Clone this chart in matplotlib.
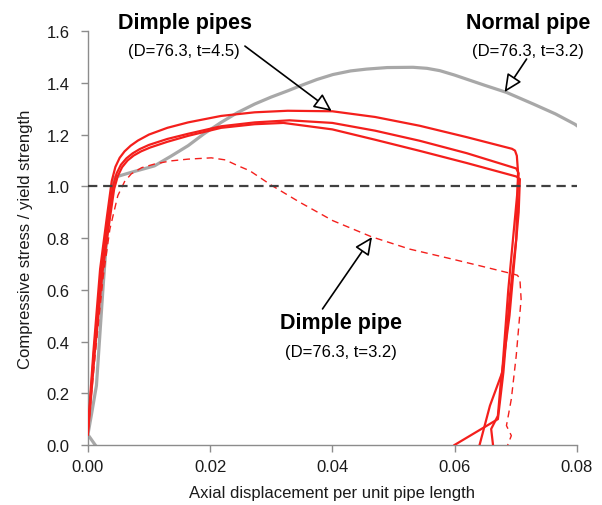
import matplotlib
matplotlib.use("Agg")
import matplotlib.pyplot as plt

plt.rcParams['font.family'] = ['Liberation Sans', 'DejaVu Sans']

# ---- data ----
# Dimple pipes (D=76.3, t=4.5) - three specimens
x_dimple_a = [0.0, 0.0009, 0.002, 0.0031, 0.0039, 0.0045, 0.0052, 0.0060, 0.0070, 0.0082, 0.0100,
              0.0130, 0.0164, 0.0218, 0.0273, 0.0327, 0.040, 0.047, 0.0543, 0.062, 0.0694, 0.0699,
              0.0702, 0.0704, 0.0701, 0.069, 0.0680, 0.0671, 0.0600]
y_dimple_a = [0.06, 0.36, 0.68, 0.88, 1.02, 1.075, 1.11, 1.135, 1.157, 1.177, 1.200,
              1.226, 1.247, 1.272, 1.286, 1.292, 1.29, 1.268, 1.234, 1.19, 1.145, 1.138,
              1.118, 1.054, 0.796, 0.564, 0.281, 0.10, 0.0]

x_dimple_b = [0.0, 0.001, 0.0022, 0.0033, 0.0041, 0.0047, 0.0054, 0.0063, 0.0073, 0.0085, 0.0100,
              0.0130, 0.0164, 0.0218, 0.0273, 0.033, 0.040, 0.047, 0.0543, 0.062, 0.0701, 0.0705,
              0.0703, 0.0688, 0.0678, 0.0658, 0.0641]
y_dimple_b = [0.05, 0.36, 0.68, 0.87, 1.0, 1.05, 1.083, 1.108, 1.127, 1.144, 1.160,
              1.183, 1.203, 1.232, 1.247, 1.255, 1.245, 1.215, 1.176, 1.128, 1.069, 1.05,
              0.98, 0.6, 0.28, 0.152, 0.0]

x_dimple_c = [0.0, 0.0011, 0.0024, 0.0035, 0.0043, 0.0049, 0.0056, 0.0065, 0.0075, 0.0087, 0.0102,
              0.0130, 0.0164, 0.0218, 0.0273, 0.032, 0.040, 0.047, 0.0543, 0.062, 0.0701, 0.0707,
              0.0705, 0.069, 0.0676, 0.0671, 0.066, 0.0663]
y_dimple_c = [0.04, 0.35, 0.67, 0.86, 0.99, 1.04, 1.074, 1.100, 1.119, 1.135, 1.150,
              1.172, 1.195, 1.226, 1.240, 1.245, 1.22, 1.18, 1.137, 1.09, 1.038, 1.028,
              0.9, 0.5, 0.25, 0.113, 0.062, 0.0]

# Dimple pipe (D=76.3, t=3.2)
x_dimple_thin = [0.0, 0.0012, 0.0025, 0.0036, 0.0049, 0.0060, 0.0071, 0.0088, 0.0109, 0.0135,
                 0.0164, 0.0202, 0.0225, 0.0245, 0.0265, 0.0284, 0.0301, 0.0347, 0.0401, 0.0464,
                 0.0527, 0.0592, 0.0641, 0.0696, 0.0703, 0.0707, 0.0709, 0.0701, 0.0693, 0.0688,
                 0.0685, 0.0693, 0.0687]
y_dimple_thin = [0.05, 0.35, 0.65, 0.835, 0.964, 1.018, 1.048, 1.072, 1.086, 1.098,
                 1.105, 1.11, 1.102, 1.08, 1.06, 1.03, 1.003, 0.938, 0.867, 0.805,
                 0.757, 0.721, 0.693, 0.661, 0.656, 0.642, 0.564, 0.345, 0.178, 0.113,
                 0.075, 0.036, 0.0]

# Normal pipe (D=76.3, t=3.2)
x_normal = [0.0012, 0.0, 0.0006, 0.0014, 0.0025, 0.0033, 0.0041, 0.0044, 0.0071, 0.0109, 0.0135,
            0.0164, 0.0190, 0.0218, 0.0245, 0.0273, 0.0300, 0.0327, 0.0347, 0.0375, 0.0401, 0.043,
            0.0456, 0.049, 0.0532, 0.0555, 0.0576, 0.060, 0.062, 0.065, 0.0685, 0.0729, 0.0765,
            0.0797, 0.080]
y_normal = [0.0, 0.04, 0.12, 0.23, 0.616, 0.873, 1.0, 1.035, 1.054, 1.079, 1.115,
            1.157, 1.203, 1.247, 1.285, 1.318, 1.345, 1.369, 1.388, 1.413, 1.432, 1.446,
            1.453, 1.459, 1.460, 1.456, 1.447, 1.430, 1.414, 1.390, 1.363, 1.318, 1.280,
            1.240, 1.235]

yield_level = 1.0
x_ticks = [0.00, 0.02, 0.04, 0.06, 0.08]
y_ticks = [0.0, 0.2, 0.4, 0.6, 0.8, 1.0, 1.2, 1.4, 1.6]

# ---- plot ----
fig = plt.figure(figsize=(6.02, 5.06), dpi=100)
ax = fig.add_axes([0.146, 0.1186, 0.812, 0.818])

red = '#f41f1c'
gray = '#a8a8a8'

ax.plot(x_normal, y_normal, color=gray, lw=2.3, solid_joinstyle='round', zorder=2)
ax.plot(x_dimple_thin, y_dimple_thin, color=red, lw=1.0, dashes=(5, 3.5), zorder=3)
for xs, ys in [(x_dimple_a, y_dimple_a), (x_dimple_b, y_dimple_b), (x_dimple_c, y_dimple_c)]:
    ax.plot(xs, ys, color=red, lw=1.6, solid_joinstyle='round', zorder=3)
ax.axhline(yield_level, color='#404040', lw=1.6, dashes=(4.2, 2.6), zorder=4)

ax.set_xlim(0, 0.08)
ax.set_ylim(0, 1.6)
ax.set_xticks(x_ticks)
ax.set_xticklabels([f'{v:.2f}' for v in x_ticks])
ax.set_yticks(y_ticks)
ax.set_yticklabels([f'{v:.1f}' for v in y_ticks])

for s in ['top', 'right']:
    ax.spines[s].set_visible(False)
for s in ['left', 'bottom']:
    ax.spines[s].set_color('#8c8c8c')
    ax.spines[s].set_linewidth(1.0)
ax.tick_params(direction='out', length=5, width=1.0, color='#8c8c8c',
               labelsize=12, labelcolor='#1a1a1a')
ax.tick_params(axis='y', pad=8)
ax.tick_params(axis='x', pad=5)

ax.set_xlabel('Axial displacement per unit pipe length', fontsize=12, color='#1a1a1a', labelpad=8)
ax.set_ylabel('Compressive stress / yield strength', fontsize=12, color='#1a1a1a', labelpad=10)

arrow = dict(arrowstyle='-|>,head_length=0.6,head_width=0.28', fc='white', ec='black',
             lw=1.2, mutation_scale=18, shrinkA=0, shrinkB=0)

ax.text(0.0159, 1.635, 'Dimple pipes', ha='center', va='center', fontsize=15.5, fontweight='bold')
ax.text(0.0157, 1.523, '(D=76.3, t=4.5)', ha='center', va='center', fontsize=12)
ax.annotate('', xy=(0.0399, 1.291), xytext=(0.0257, 1.542), arrowprops=arrow)

ax.text(0.0721, 1.635, 'Normal pipe', ha='center', va='center', fontsize=15.5, fontweight='bold')
ax.text(0.0720, 1.523, '(D=76.3, t=3.2)', ha='center', va='center', fontsize=12)
ax.annotate('', xy=(0.0682, 1.364), xytext=(0.0718, 1.492), arrowprops=arrow)

ax.text(0.0414, 0.475, 'Dimple pipe', ha='center', va='center', fontsize=15.5, fontweight='bold')
ax.text(0.0414, 0.363, '(D=76.3, t=3.2)', ha='center', va='center', fontsize=12)
ax.annotate('', xy=(0.0465, 0.804), xytext=(0.0384, 0.526), arrowprops=arrow)

fig.savefig('out.png', dpi=100)
